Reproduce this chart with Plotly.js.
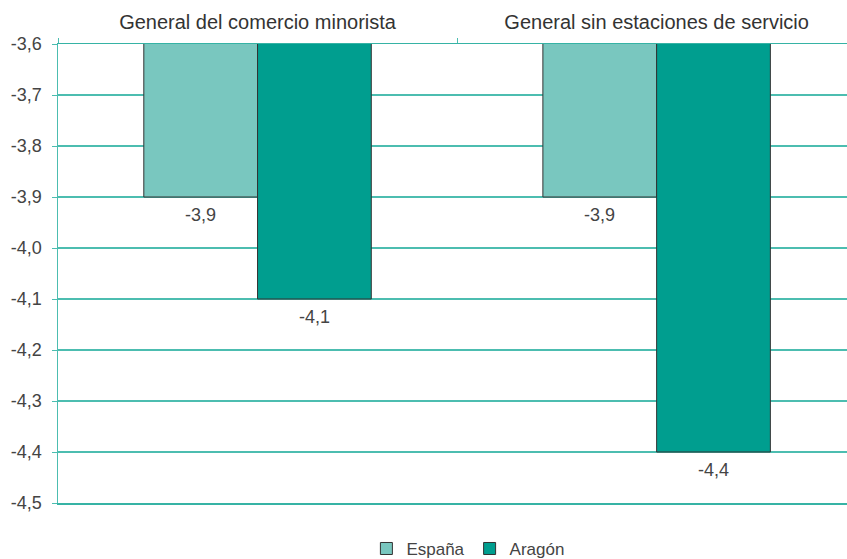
<!DOCTYPE html>
<html><head><meta charset="utf-8">
<script src="https://cdn.plot.ly/plotly-3.0.1.min.js"></script>
<style>html,body{margin:0;padding:0;background:#fff}#chart{width:847px;height:559px}</style>
</head><body><div id="chart"></div>
<script>
const categories = ["General del comercio minorista", "General sin estaciones de servicio"];
const espana = [-3.9, -3.9];
const aragon = [-4.1, -4.4];
const seriesNames = ["España", "Aragón"];
const yTicks = [-3.6, -3.7, -3.8, -3.9, -4.0, -4.1, -4.2, -4.3, -4.4, -4.5];

const FONT = "Liberation Sans, Arial, sans-serif";
const fmt = v => v.toFixed(1).replace(".", ",");
const GRID = "#4CBDB0";

const traces = [
  {type:"bar", name:seriesNames[0], x:categories, y:espana,
   marker:{color:"#79C7BF", line:{color:"#333333", width:1}}, hoverinfo:"skip"},
  {type:"bar", name:seriesNames[1], x:categories, y:aragon,
   marker:{color:"#009E8F", line:{color:"#333333", width:1}}, hoverinfo:"skip"}
];

const annotations = [];
[espana, aragon].forEach((arr, si) => {
  arr.forEach((v, ci) => {
    annotations.push({x:ci + (si === 0 ? -0.143 : 0.143), xref:"x", y:v, yref:"y",
      text:fmt(v), showarrow:false, yshift:-18, font:{family:FONT, size:18, color:"#444"}});
  });
});

const layout = {
  width:847, height:559,
  margin:{l:58, r:0, t:44, b:56, autoexpand:false},
  paper_bgcolor:"#fff", plot_bgcolor:"#fff",
  separators:",.",
  barmode:"group", bargap:0.43, bargroupgap:0,
  font:{family:FONT, size:16, color:"#444"},
  showlegend:true,
  legend:{orientation:"h", xref:"container", yref:"container", x:0.553, xanchor:"center",
    y:0.018, yanchor:"middle",
    font:{family:FONT, size:17, color:"#444"}, itemwidth:30, traceorder:"normal"},
  xaxis:{side:"top", range:[-0.5, 1.477], showgrid:false,
    showline:true, linecolor:"#36B3A5", linewidth:1.5, mirror:true,
    ticks:"outside", tickson:"boundaries", ticklen:5, tickcolor:GRID,
    ticklabelstandoff:6,
    tickfont:{family:FONT, size:20, color:"#333"}, fixedrange:true},
  yaxis:{range:[-4.5, -3.6], tickvals:yTicks, ticktext:yTicks.map(fmt),
    showgrid:true, gridcolor:GRID, gridwidth:1.5,
    showline:true, linecolor:GRID, linewidth:1.5,
    ticks:"outside", ticklen:5, tickcolor:GRID, ticklabelstandoff:6,
    tickfont:{family:FONT, size:18, color:"#444"}, zeroline:false, fixedrange:true},
  annotations:annotations
};

Plotly.newPlot("chart", traces, layout, {displayModeBar:false, staticPlot:true});
</script></body></html>
